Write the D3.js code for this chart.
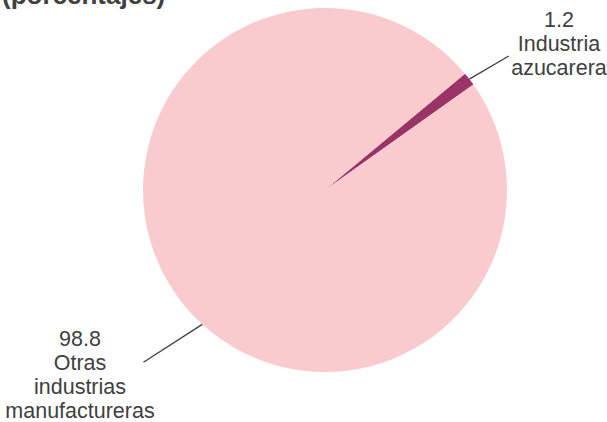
<!DOCTYPE html>
<html>
<head>
<meta charset="utf-8">
<script src="https://cdn.jsdelivr.net/npm/d3@7"></script>
<style>
  body { margin: 0; background: #fff; }
  text { font-family: Arial, "Liberation Sans", sans-serif; fill: #404040; }
</style>
</head>
<body>
<div id="chart"></div>
<script>
var categories = ["Industria azucarera", "Otras industrias manufactureras"];
var values = [1.2, 98.8];
var labelLines = [["1.2", "Industria", "azucarera"], ["98.8", "Otras", "industrias", "manufactureras"]];
var colors = ["#9a3366", "#f9cbce"];

var svgWidth = 607;
var svgHeight = 422;
var cx = 325, cy = 190, radius = 182;
var startDeg = 50.3;

var svg = d3.select("#chart")
  .append("svg")
  .attr("width", svgWidth)
  .attr("height", svgHeight);

// title, cut off by the top edge as in the original
svg.append("text")
  .attr("x", 2)
  .attr("y", 4)
  .style("font-size", "26px")
  .style("font-weight", "bold")
  .text("(porcentajes)");

var g = svg.append("g")
  .attr("transform", `translate(${cx}, ${cy})`);

var rad = d => d * Math.PI / 180;

var pie = d3.pie()
  .sort(null)
  .startAngle(rad(startDeg))
  .endAngle(rad(startDeg) + 2 * Math.PI);

var arc = d3.arc().innerRadius(0).outerRadius(radius);

var arcs = pie(values);

g.selectAll("path")
  .data(arcs)
  .enter()
  .append("path")
  .attr("d", arc)
  .attr("fill", (d, i) => colors[i]);

// leader lines: angle on the pie edge -> outer point (angle, radius factor)
var leaders = [
  { a0: null, a1: 53.9, k: 1.25 },
  { a0: 222.4, a1: 226.5, k: 1.375 }
];
var polar = (deg, r) => [Math.sin(rad(deg)) * r, -Math.cos(rad(deg)) * r];

g.selectAll("line.leader")
  .data(arcs)
  .enter()
  .append("line")
  .attr("class", "leader")
  .each(function(d, i) {
    var L = leaders[i];
    var a0 = L.a0 == null ? ((d.startAngle + d.endAngle) / 2) * 180 / Math.PI : L.a0;
    var p0 = polar(a0, radius);
    var p1 = polar(L.a1, radius * L.k);
    d3.select(this)
      .attr("x1", p0[0]).attr("y1", p0[1])
      .attr("x2", p1[0]).attr("y2", p1[1]);
  })
  .attr("stroke", "#404040")
  .attr("stroke-width", 1.3);

// labels
var labelPos = [[234, -163], [-245, 156]];
var lineH = 24;

g.selectAll("text.lbl")
  .data(arcs)
  .enter()
  .append("text")
  .attr("class", "lbl")
  .style("font-size", "21.5px")
  .style("text-anchor", "middle")
  .each(function(d, i) {
    d3.select(this).selectAll("tspan")
      .data(labelLines[i])
      .enter()
      .append("tspan")
      .attr("x", labelPos[i][0])
      .attr("y", (t, j) => labelPos[i][1] + j * lineH)
      .text(t => t);
  });
</script>
</body>
</html>
